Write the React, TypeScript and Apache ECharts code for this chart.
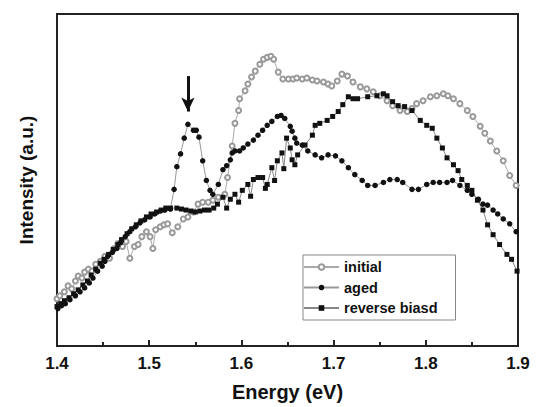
import React, { useEffect, useRef } from "react";
import * as echarts from "echarts";

const xTicks = [1.4, 1.5, 1.6, 1.7, 1.8, 1.9];

const initialData: [number, number][] = [
  [1.400, 48], [1.403, 51], [1.408, 55], [1.412, 61], [1.416, 58], [1.420, 66], [1.423, 71],
  [1.427, 69], [1.430, 75], [1.434, 78], [1.438, 76], [1.442, 83], [1.447, 86], [1.452, 91],
  [1.457, 89], [1.462, 99], [1.466, 104], [1.471, 101], [1.475, 106], [1.479, 89], [1.484, 101],
  [1.488, 103], [1.492, 111], [1.497, 116], [1.501, 111], [1.504, 99], [1.507, 118], [1.512, 121],
  [1.516, 123], [1.520, 124], [1.525, 115], [1.531, 121], [1.537, 129], [1.542, 131], [1.548, 136],
  [1.553, 144], [1.558, 146], [1.564, 146], [1.569, 148], [1.575, 151], [1.582, 154], [1.585, 171],
  [1.590, 203], [1.593, 226], [1.597, 239], [1.598, 251], [1.604, 259], [1.607, 266], [1.611, 273],
  [1.615, 279], [1.620, 286], [1.624, 291], [1.628, 293], [1.632, 294], [1.635, 291], [1.640, 278],
  [1.645, 271], [1.651, 271], [1.656, 271], [1.660, 272], [1.666, 271], [1.671, 272], [1.677, 270],
  [1.682, 269], [1.689, 268], [1.694, 266], [1.698, 264], [1.704, 269], [1.709, 276], [1.715, 274],
  [1.721, 268], [1.729, 263], [1.736, 261], [1.743, 258], [1.750, 254], [1.758, 249], [1.764, 244],
  [1.772, 239], [1.780, 238], [1.785, 241], [1.790, 246], [1.797, 249], [1.805, 253], [1.812, 254],
  [1.819, 256], [1.824, 254], [1.830, 251], [1.837, 246], [1.845, 239], [1.851, 233], [1.859, 223],
  [1.864, 216], [1.870, 208], [1.877, 198], [1.884, 188], [1.891, 173], [1.898, 163],
];

const agedData: [number, number][] = [
  [1.401, 38], [1.405, 41], [1.409, 43], [1.414, 47], [1.420, 51], [1.425, 55], [1.430, 59],
  [1.435, 64], [1.439, 69], [1.444, 76], [1.449, 81], [1.452, 86], [1.455, 91], [1.460, 95],
  [1.465, 99], [1.469, 105], [1.474, 111], [1.479, 116], [1.485, 121], [1.490, 125], [1.495, 128],
  [1.501, 131], [1.506, 134], [1.512, 137], [1.517, 138], [1.523, 139], [1.527, 159], [1.530, 182],
  [1.534, 195], [1.538, 211], [1.542, 225], [1.548, 219], [1.551, 219], [1.554, 212], [1.558, 188],
  [1.562, 168], [1.566, 158], [1.569, 154], [1.575, 164], [1.580, 179], [1.584, 183], [1.588, 189],
  [1.590, 196], [1.593, 198], [1.598, 198], [1.602, 201], [1.607, 205], [1.613, 209], [1.618, 214],
  [1.623, 219], [1.628, 224], [1.633, 228], [1.639, 233], [1.643, 234], [1.647, 231], [1.653, 223],
  [1.655, 218], [1.658, 211], [1.660, 206], [1.666, 204], [1.672, 198], [1.680, 194], [1.687, 191],
  [1.694, 194], [1.702, 193], [1.709, 188], [1.716, 181], [1.723, 174], [1.731, 168], [1.737, 163],
  [1.745, 163], [1.754, 166], [1.761, 169], [1.769, 169], [1.775, 166], [1.785, 159], [1.792, 159],
  [1.801, 164], [1.808, 166], [1.815, 166], [1.823, 166], [1.829, 168], [1.837, 163], [1.845, 158],
  [1.850, 154], [1.857, 149], [1.862, 144], [1.867, 143], [1.873, 138], [1.878, 134], [1.884, 129],
  [1.891, 124], [1.898, 116],
];

const reverseData: [number, number][] = [
  [1.400, 40], [1.404, 43], [1.408, 46], [1.413, 49], [1.418, 53], [1.423, 57], [1.428, 62],
  [1.433, 66], [1.437, 72], [1.442, 78], [1.447, 84], [1.451, 88], [1.456, 93], [1.461, 98],
  [1.466, 103], [1.470, 108], [1.476, 114], [1.481, 119], [1.486, 123], [1.491, 127], [1.497, 131],
  [1.502, 134], [1.508, 136], [1.513, 138], [1.518, 140], [1.523, 140], [1.530, 140], [1.535, 139],
  [1.540, 138], [1.545, 137], [1.550, 136], [1.555, 137], [1.560, 138], [1.565, 138], [1.570, 140],
  [1.574, 144], [1.580, 151], [1.584, 140], [1.588, 149], [1.593, 154], [1.597, 146], [1.601, 158],
  [1.607, 164], [1.610, 152], [1.613, 169], [1.618, 171], [1.623, 171], [1.626, 160], [1.628, 164],
  [1.633, 181], [1.636, 168], [1.639, 188], [1.644, 196], [1.646, 180], [1.649, 211], [1.653, 201],
  [1.655, 189], [1.658, 184], [1.661, 194], [1.669, 204], [1.677, 214], [1.680, 224], [1.685, 226],
  [1.693, 229], [1.699, 233], [1.705, 238], [1.710, 245], [1.716, 253], [1.721, 251], [1.726, 251],
  [1.737, 253], [1.747, 254], [1.754, 256], [1.758, 254], [1.764, 248], [1.770, 244], [1.777, 243],
  [1.785, 239], [1.794, 229], [1.801, 224], [1.807, 221], [1.812, 211], [1.818, 201], [1.823, 191],
  [1.830, 184], [1.835, 178], [1.839, 169], [1.845, 163], [1.850, 158], [1.856, 148], [1.862, 138],
  [1.867, 123], [1.873, 113], [1.880, 103], [1.888, 93], [1.893, 88], [1.899, 76],
];

const arrowX = 1.542;
const arrowTop = 274;
const arrowTip = 238;

const FONT = "Liberation Sans, Arial, sans-serif";

export default function App() {
  const ref = useRef<HTMLDivElement>(null);
  useEffect(() => {
    document.body.style.margin = "0";
    const chart = echarts.init(ref.current!, null, { renderer: "svg" });
    chart.setOption({
      animation: false,
      backgroundColor: "#ffffff",
      grid: {
        left: 57,
        right: 20,
        top: 14,
        bottom: 56,
        show: true,
        borderColor: "#222",
        borderWidth: 2,
      },
      legend: {
        left: 303,
        top: 255,
        orient: "vertical",
        itemGap: 4.5,
        itemWidth: 35,
        itemHeight: 7,
        padding: [4, 18, 4, 0],
        backgroundColor: "#ffffff",
        borderColor: "#888",
        borderWidth: 1,
        textStyle: { fontFamily: FONT, fontWeight: "bold", fontSize: 14.5, color: "#111", lineHeight: 16 },
        data: ["initial", "aged", "reverse biasd"],
      },
      xAxis: {
        type: "value",
        min: 1.4,
        max: 1.9,
        interval: 0.1,
        name: "Energy (eV)",
        nameLocation: "middle",
        nameGap: 36,
        nameTextStyle: { fontFamily: FONT, fontWeight: "bold", fontSize: 20, color: "#111" },
        axisLine: { show: true, lineStyle: { color: "#222", width: 2 } },
        axisTick: { show: true, inside: true, length: 6, lineStyle: { color: "#222", width: 2 } },
        minorTick: { show: true, splitNumber: 2, length: 4, lineStyle: { color: "#222", width: 2 } },
        splitLine: { show: false },
        axisLabel: {
          fontFamily: FONT,
          fontWeight: "bold",
          fontSize: 17,
          color: "#111",
          margin: 9,
          formatter: (v: number) => {
            const t = xTicks.find((k) => Math.abs(k - v) < 1e-6);
            return (t !== undefined ? t : v).toFixed(1);
          },
        },
      },
      yAxis: {
        type: "value",
        min: 0,
        max: 337,
        name: "Intensity (a.u.)",
        nameLocation: "middle",
        nameGap: 21,
        nameRotate: 90,
        nameTextStyle: { fontFamily: FONT, fontWeight: "bold", fontSize: 19, color: "#111" },
        axisLine: { show: true, lineStyle: { color: "#222", width: 2 } },
        axisTick: { show: false },
        axisLabel: { show: false },
        splitLine: { show: false },
      },
      series: [
        {
          name: "initial",
          type: "line",
          data: initialData,
          symbol: "emptyCircle",
          symbolSize: 5,
          showSymbol: true,
          showAllSymbol: true,
          itemStyle: { color: "#999", borderWidth: 1.2 },
          lineStyle: { color: "#aaa", width: 1 },
          z: 2,
        },
        {
          name: "aged",
          type: "line",
          data: agedData,
          symbol: "circle",
          symbolSize: 5.5,
          showAllSymbol: true,
          itemStyle: { color: "#111" },
          lineStyle: { color: "#999", width: 1 },
          z: 3,
          markLine: {
            silent: true,
            symbol: ["none", "arrow"],
            symbolSize: [10, 14],
            label: { show: false },
            lineStyle: { color: "#111", width: 3, type: "solid" },
            data: [[{ coord: [arrowX, arrowTop] }, { coord: [arrowX, arrowTip] }]],
          },
        },
        {
          name: "reverse biasd",
          type: "line",
          data: reverseData,
          symbol: "rect",
          symbolSize: 5,
          showAllSymbol: true,
          itemStyle: { color: "#111" },
          lineStyle: { color: "#888", width: 1 },
          z: 3,
        },
      ],
    });
    return () => chart.dispose();
  }, []);
  return <div ref={ref} style={{ width: 538, height: 407 }} />;
}
